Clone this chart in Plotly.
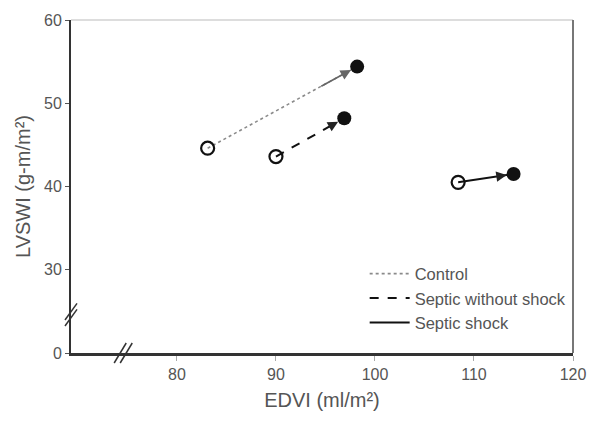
import plotly.graph_objects as go

# ---- data ----
groups = ["Control", "Septic without shock", "Septic shock"]
edvi_before = [83.1, 90.0, 108.4]
lvswi_before = [44.6, 43.6, 40.5]
edvi_after = [98.2, 96.9, 114.0]
lvswi_after = [54.4, 48.2, 41.5]

y_tickvals = [20, 30, 40, 50, 60]
y_ticktext = ["0", "30", "40", "50", "60"]
x_tickvals = [80, 90, 100, 110, 120]

line_styles = [
    dict(color="#8a8a8a", width=1.6, dash="dot"),
    dict(color="#111111", width=2, dash="dash"),
    dict(color="#111111", width=2, dash="solid"),
]

fig = go.Figure()

for i, g in enumerate(groups):
    fig.add_trace(go.Scatter(
        x=[edvi_before[i], edvi_after[i]],
        y=[lvswi_before[i], lvswi_after[i]],
        mode="lines", line=line_styles[i], name=g, showlegend=True,
    ))

# markers
fig.add_trace(go.Scatter(
    x=edvi_before, y=lvswi_before, mode="markers", showlegend=False,
    marker=dict(symbol="circle-open", size=13, color="#111111", line=dict(width=2.2)),
))
fig.add_trace(go.Scatter(
    x=edvi_after, y=lvswi_after, mode="markers", showlegend=False,
    marker=dict(symbol="circle", size=14, color="#111111"),
))

# arrow heads (short tails along each segment)
for i, g in enumerate(groups):
    x0, y0, x1, y1 = edvi_before[i], lvswi_before[i], edvi_after[i], lvswi_after[i]
    t = 0.75
    fig.add_annotation(
        x=x1, y=y1, ax=x0 + t * (x1 - x0), ay=y0 + t * (y1 - y0),
        xref="x", yref="y", axref="x", ayref="y",
        showarrow=True, arrowhead=2, arrowsize=1.3, arrowwidth=1.6,
        arrowcolor="#222222" if i else "#666666", standoff=7, text="",
    )

fig.update_layout(
    width=598, height=426,
    margin=dict(l=71, r=15, t=18, b=73),
    plot_bgcolor="white", paper_bgcolor="white",
    font=dict(family="Liberation Sans, Arial, sans-serif", size=16, color="#555555"),
    showlegend=True,
    legend=dict(x=0.585, y=0.29, xanchor="left", yanchor="top",
                bgcolor="rgba(0,0,0,0)", font=dict(size=16.5, color="#555555"),
                tracegroupgap=0, itemwidth=40),
    xaxis=dict(range=[69.3, 120], tickvals=x_tickvals, showgrid=False, zeroline=False,
               showline=True, linecolor="#333333", linewidth=2.5,
               ticks="outside", ticklen=5, tickcolor="#aaaaaa",
               tickfont=dict(size=16),
               title=dict(text="EDVI (ml/m²)", font=dict(size=20, color="#555555"), standoff=12)),
    yaxis=dict(range=[20, 60], tickvals=y_tickvals, ticktext=y_ticktext, showgrid=False,
               zeroline=False, showline=True, linecolor="#333333", linewidth=2,
               ticks="outside", ticklen=4, tickcolor="#555555",
               tickfont=dict(size=16),
               title=dict(text="LVSWI (g-m/m²)", font=dict(size=20, color="#555555"), standoff=8)),
)

# frame: light top border, gray right border
fig.add_shape(type="line", xref="paper", yref="paper", x0=0, x1=1, y0=1, y1=1,
              line=dict(color="#bbbbbb", width=1.2))
fig.add_shape(type="line", xref="paper", yref="paper", x0=1, x1=1, y0=0, y1=1,
              line=dict(color="#777777", width=2))

# axis break marks (//)
for dx in (-0.006, 0.006):
    fig.add_shape(type="line", xref="paper", yref="paper",
                  x0=0.104 + dx - 0.012, x1=0.104 + dx + 0.012, y0=-0.03, y1=0.03,
                  line=dict(color="#333333", width=1.5))
    fig.add_shape(type="line", xref="paper", yref="paper",
                  x0=-0.012, x1=0.012, y0=0.115 + dx * 1.5 - 0.025, y1=0.115 + dx * 1.5 + 0.025,
                  line=dict(color="#333333", width=1.5))

fig.write_html("out.html")
